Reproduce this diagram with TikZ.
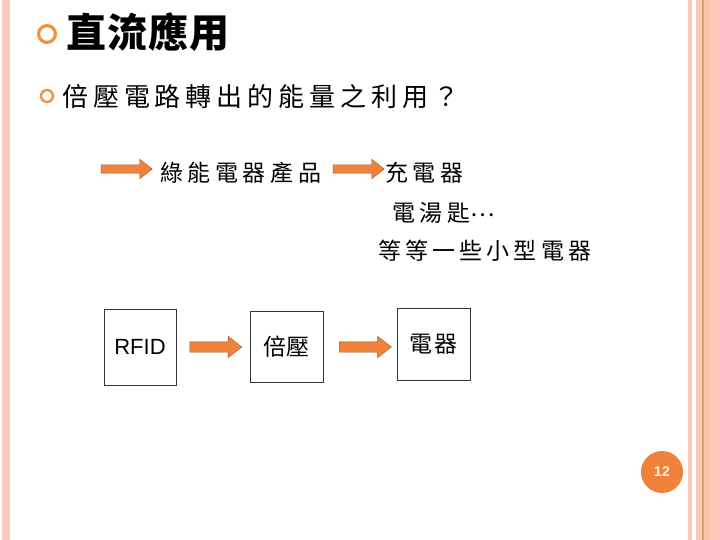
\documentclass[tikz,border=0pt]{standalone}
\usepackage{fontspec}
\usetikzlibrary{shapes.arrows}
\newfontfamily\cjk{Noto Sans CJK TC}
\newfontfamily\arialf{Liberation Sans}
\definecolor{orng}{HTML}{F0823C}
\definecolor{ring}{HTML}{F0913F}
\definecolor{stripeA}{HTML}{F9CBBB}
\definecolor{stripeB}{HTML}{FBC9B6}
\definecolor{stripeC}{HTML}{FCC6AE}
\definecolor{stripeD}{HTML}{FDCABA}
\definecolor{stripeLine}{HTML}{E39A70}
\definecolor{pagetxt}{HTML}{FFF3E0}
\tikzset{
  txt/.style={inner sep=0pt, anchor=west},
  blockarrow/.style={single arrow, fill=orng, draw=orng!65!black, line width=0.4pt,
    inner xsep=0pt, single arrow tip angle=76, anchor=center},
  toparrow/.style={blockarrow, minimum height=51pt, inner ysep=4pt, single arrow head extend=5.5pt},
  botarrow/.style={blockarrow, minimum height=52pt, inner ysep=5pt, single arrow head extend=5.5pt},
  boxnode/.style={draw=black!80, line width=0.6pt, inner sep=0pt, align=center},
}
\begin{document}
\begin{tikzpicture}[x=1pt,y=-1pt]
\useasboundingbox (0,0) rectangle (720,540);
\fill[white] (0,0) rectangle (720,540);
% decorative stripes
\fill[stripeA] (2,0) rectangle (10,540);
\fill[stripeA] (688,0) rectangle (692,540);
\fill[stripeB] (696,0) rectangle (702,540);
\fill[stripeC] (703.5,0) rectangle (710,540);
\fill[stripeD] (710,0) rectangle (720,540);
\fill[stripeLine] (702,0) rectangle (703.5,540);
% title
\draw[ring, line width=3.2pt] (47,34) circle (8.4);
\node[txt] (title) at (66,32) {\cjk\bfseries\addfontfeatures{LetterSpace=3}\fontsize{40}{44}\selectfont 直流應用};
% subtitle
\draw[ring, line width=2.4pt] (47,96) circle (6);
\node[txt] (sub) at (62,97) {\cjk\addfontfeatures{LetterSpace=19}\fontsize{26}{30}\selectfont 倍壓電路轉出的能量之利用？};
% row 1
\node[toparrow] (a1) at (124,169) {};
\node[txt] (green) at (160,173) {\cjk\addfontfeatures{LetterSpace=20}\fontsize{23}{27}\selectfont 綠能電器產品};
\node[toparrow] (a2) at (356,169) {};
\node[txt] (charger) at (385,173) {\cjk\addfontfeatures{LetterSpace=20}\fontsize{23}{27}\selectfont 充電器};
\node[txt] (kettle) at (392,213) {\cjk\addfontfeatures{LetterSpace=20}\fontsize{23}{27}\selectfont 電湯匙\raisebox{5pt}{…}};
\node[txt] (small) at (378,251) {\cjk\addfontfeatures{LetterSpace=18}\fontsize{23}{27}\selectfont 等等一些小型電器};
% boxes
\node[boxnode, minimum width=72pt, minimum height=76pt] (rfid) at (140,347) {\arialf\fontsize{22}{24}\selectfont RFID};
\node[boxnode, minimum width=73pt, minimum height=71pt] (mult) at (286.5,346.5) {\cjk\addfontfeatures{LetterSpace=4}\fontsize{23}{27}\selectfont 倍壓};
\node[boxnode, minimum width=73pt, minimum height=72pt] (dev) at (433.5,344) {\cjk\addfontfeatures{LetterSpace=8}\fontsize{23}{27}\selectfont 電器};
\node[botarrow] (b1) at (212.5,347) {};
\node[botarrow] (b2) at (362,347) {};
% page number
\node[circle, fill=orng, minimum size=42pt, inner sep=0pt, text=pagetxt,
  font=\arialf\bfseries\fontsize{14}{16}\selectfont] (page) at (662,472) {12};
\end{tikzpicture}
\end{document}
